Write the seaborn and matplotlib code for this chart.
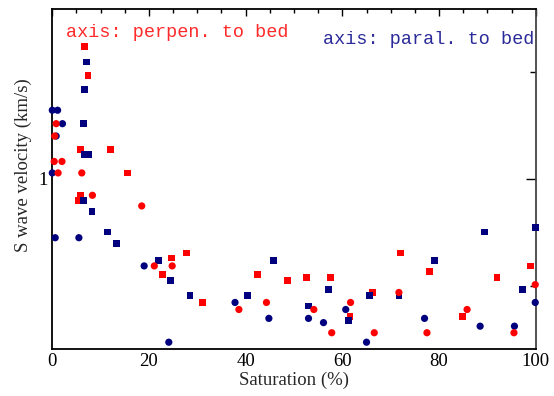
import matplotlib
matplotlib.use("Agg")
import matplotlib.pyplot as plt
import seaborn as sns
import pandas as pd
from matplotlib.ticker import NullFormatter, FixedLocator

# --- data (Saturation %, S wave velocity km/s) ---
perp_sq_x = [6.7, 7.4, 5.8, 12.1, 15.6, 5.8, 5.5, 24.6, 27.8, 22.8, 31.0, 42.4,
             48.7, 52.6, 57.5, 66.2, 61.6, 72.1, 78.0, 84.8, 92.0, 98.9]
perp_sq_y = [2.36, 1.95, 1.21, 1.21, 1.04, 0.90, 0.87, 0.60, 0.62, 0.54, 0.45, 0.54,
             0.52, 0.53, 0.53, 0.48, 0.41, 0.62, 0.55, 0.41, 0.53, 0.57]

perp_ci_x = [0.8, 0.5, 0.4, 2.0, 1.2, 6.1, 8.3, 18.5, 21.1, 24.8, 38.6, 44.3,
             54.1, 57.8, 61.7, 66.6, 71.7, 77.5, 85.8, 95.5, 99.9]
perp_ci_y = [1.43, 1.32, 1.12, 1.12, 1.04, 1.04, 0.90, 0.84, 0.57, 0.57, 0.43, 0.45,
             0.43, 0.37, 0.45, 0.37, 0.48, 0.37, 0.43, 0.37, 0.505]

par_ci_x = [0.0, 1.1, 2.1, 0.8, 0.0, 0.6, 5.5, 19.0, 24.1, 37.8, 44.8, 53.0,
            56.1, 60.7, 65.0, 77.0, 88.5, 95.6, 99.9]
par_ci_y = [1.56, 1.56, 1.43, 1.32, 1.04, 0.684, 0.684, 0.57, 0.348, 0.45, 0.406, 0.406,
            0.395, 0.43, 0.348, 0.406, 0.386, 0.386, 0.45]

par_sq_x = [7.0, 6.7, 6.5, 6.6, 7.5, 6.5, 8.2, 11.4, 13.2, 21.9, 24.4, 28.5,
            40.3, 45.8, 53.0, 57.1, 61.2, 65.6, 71.7, 79.1, 89.4, 97.2, 99.9]
par_sq_y = [2.13, 1.78, 1.43, 1.17, 1.17, 0.87, 0.81, 0.71, 0.66, 0.59, 0.52, 0.47,
            0.47, 0.59, 0.44, 0.49, 0.40, 0.47, 0.47, 0.59, 0.71, 0.49, 0.73]

x_ticks = [0, 20, 40, 60, 80, 100]
x_tick_labels = ["0", "20", "40", "60", "80", "100"]

RED = "#ff0000"
NAVY = "#00007f"

sns.set_theme(style="white")
plt.rcParams["font.family"] = ["Liberation Serif", "DejaVu Serif"]

fig = plt.figure(figsize=(5.54, 3.96), dpi=100)
ax = fig.add_axes([0.0944, 0.119, 0.967 - 0.0944, 0.977 - 0.119])

def scat(xs, ys, marker, color, s):
    df = pd.DataFrame({"x": xs, "y": ys})
    sns.scatterplot(data=df, x="x", y="y", marker=marker, color=color, s=s,
                    edgecolor="none", linewidth=0, ax=ax, clip_on=False, zorder=3)

scat(perp_sq_x, perp_sq_y, "s", RED, 24)
scat(par_sq_x, par_sq_y, "s", NAVY, 24)
scat(par_ci_x, par_ci_y, "o", NAVY, 27)
scat(perp_ci_x, perp_ci_y, "o", RED, 27)

ax.set_yscale("log")
ax.set_xlim(0, 100)
ax.set_ylim(1 / 3, 3)

ax.set_xticks(x_ticks)
ax.set_xticklabels(x_tick_labels)
ax.xaxis.set_minor_locator(FixedLocator([v for v in range(0, 101, 5) if v % 20]))
ax.yaxis.set_major_locator(FixedLocator([1]))
ax.set_yticklabels(["1"])
ax.yaxis.set_minor_locator(FixedLocator([0.5, 2]))
ax.yaxis.set_minor_formatter(NullFormatter())

ax.tick_params(axis="both", which="both", direction="in", top=True, right=True,
               colors="black", labelsize=13.5)
ax.tick_params(axis="x", which="major", length=5, width=1, pad=3)
ax.tick_params(axis="x", which="minor", length=3, width=1)
ax.tick_params(axis="y", which="major", length=7, width=1, pad=3)
ax.tick_params(axis="y", which="minor", length=4, width=1)

for side in ["left", "bottom", "top", "right"]:
    ax.spines[side].set_visible(True)
    ax.spines[side].set_color("black")
    ax.spines[side].set_linewidth(1.3)
ax.spines["right"].set_color("#444444")

ax.set_xlabel("Saturation (%)", fontsize=13.5, labelpad=1)
ax.set_ylabel("S wave velocity (km/s)", fontsize=13.5)
ax.yaxis.set_label_coords(-0.042, 0.541)

ax.text(0.029, 0.955, "axis: perpen. to bed", transform=ax.transAxes,
        family=["Liberation Mono", "DejaVu Sans Mono"], fontsize=13.3,
        color="#ff2a2a", ha="left", va="top")
ax.text(0.998, 0.935, "axis: paral. to bed", transform=ax.transAxes,
        family=["Liberation Mono", "DejaVu Sans Mono"], fontsize=13.3,
        color="#2b2b9a", ha="right", va="top", clip_on=False)

fig.savefig("out.png", dpi=100)
